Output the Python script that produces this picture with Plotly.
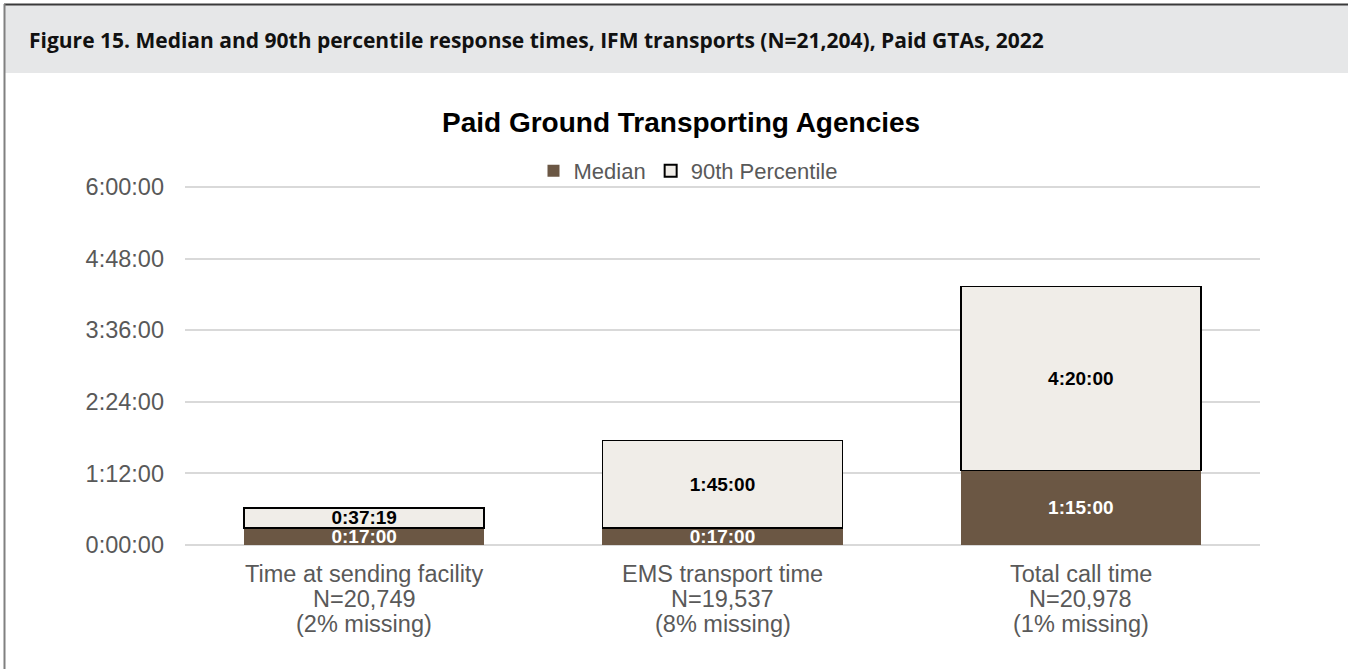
import plotly.graph_objects as go

# ---- data ----
categories = ["Time at sending facility", "EMS transport time", "Total call time"]
n_values = ["20,749", "19,537", "20,978"]
missing_pct = ["2%", "8%", "1%"]
median_sec = [17 * 60, 17 * 60, 75 * 60]                 # 0:17:00, 0:17:00, 1:15:00
p90_sec = [37 * 60 + 19, 105 * 60, 260 * 60]             # 0:37:19, 1:45:00, 4:20:00
tick_vals_sec = [0, 4320, 8640, 12960, 17280, 21600]
tick_labels = ["0:00:00", "1:12:00", "2:24:00", "3:36:00", "4:48:00", "6:00:00"]


def fmt(sec):
    h, r = divmod(int(sec), 3600)
    m, s = divmod(r, 60)
    return f"{h}:{m:02d}:{s:02d}"


extra_sec = [p - m for p, m in zip(p90_sec, median_sec)]

W, H = 1348, 669
L, R, T, B = 185, 1260, 177, 545  # plot area in pixels (extended a little above the 6:00:00 line)
TOP_GRID_PX = 187                  # pixel row of the 6:00:00 line
y_max = tick_vals_sec[-1] * (B - T) / (B - TOP_GRID_PX)


def xp(px):
    return (px - L) / (R - L)


def yp(py):
    return (B - py) / (B - T)


BROWN = "#6b5744"
LIGHT = "#f0ede8"
GRAY = "#595959"
SANS = "Liberation Sans, Arial"
bar_font = "Liberation Sans Narrow, Arial Narrow, Liberation Sans, Arial"

fig = go.Figure()
fig.add_trace(go.Bar(
    x=categories, y=median_sec, name="Median",
    marker=dict(color=BROWN, line=dict(color="#2b2218", width=0)),
    text=[fmt(v) for v in median_sec], textposition="inside", insidetextanchor="middle",
    textfont=dict(family=bar_font, size=19, color="white", weight="bold"),
    cliponaxis=True,
))
fig.add_trace(go.Bar(
    x=categories, y=extra_sec, name="90th Percentile",
    marker=dict(color=LIGHT, line=dict(color="black", width=1.6)),
    text=[fmt(v) for v in p90_sec], textposition="inside", insidetextanchor="middle",
    textfont=dict(family=bar_font, size=19, color="black", weight="bold"),
))

fig.update_layout(
    width=W, height=H,
    margin=dict(l=L, r=W - R, t=T, b=H - B, pad=0),
    paper_bgcolor="white", plot_bgcolor="white",
    barmode="stack", bargap=0.33,
    uniformtext=dict(minsize=19, mode="show"),
    showlegend=True,
    legend=dict(orientation="h", x=xp(688), xanchor="center", y=yp(171), yanchor="middle",
                font=dict(family=SANS, size=22, color=GRAY),
                itemsizing="constant", traceorder="normal", itemwidth=30,
                bgcolor="rgba(0,0,0,0)"),
    font=dict(family=SANS, color=GRAY),
    xaxis=dict(showgrid=False, showline=False, ticks="", showticklabels=False,
               zeroline=False),
    yaxis=dict(range=[0, y_max], tickvals=tick_vals_sec, ticktext=tick_labels,
               showgrid=True, gridcolor="#d9d9d9", gridwidth=1.5, zeroline=True,
               zerolinecolor="#d9d9d9", zerolinewidth=1.5, showline=False,
               tickfont=dict(family=SANS, size=23.5, color=GRAY), ticks="", ticklabelstandoff=20),
)

shapes = [
    # header band
    dict(type="rect", xref="paper", yref="paper", x0=xp(5), x1=xp(W + 5), y0=yp(73), y1=yp(5),
         fillcolor="#e6e7e8", line=dict(width=0), layer="below"),
    # top border
    dict(type="line", xref="paper", yref="paper", x0=xp(4), x1=xp(W + 5), y0=yp(4.5), y1=yp(4.5),
         line=dict(color="#3a3a3a", width=2)),
    # left border
    dict(type="line", xref="paper", yref="paper", x0=xp(4.5), x1=xp(4.5), y0=yp(4), y1=yp(H + 5),
         line=dict(color="#808080", width=2)),
]
fig.update_layout(shapes=shapes)

fig.add_annotation(
    text="Figure 15. Median and 90th percentile response times, IFM transports (N=21,204), Paid GTAs, 2022",
    xref="paper", yref="paper", x=xp(27), y=yp(40), xanchor="left", yanchor="middle",
    showarrow=False, font=dict(family="Open Sans, Liberation Sans", size=21, color="#111111", weight="bold"),
)
fig.add_annotation(
    text="Paid Ground Transporting Agencies",
    xref="paper", yref="paper", x=xp(681), y=yp(122), xanchor="center", yanchor="middle",
    showarrow=False, font=dict(family=SANS, size=28, color="black", weight="bold"),
)

# category labels (three lines each)
for cat, n, miss in zip(categories, n_values, missing_pct):
    for line, py in ((cat, 574), (f"N={n}", 599), (f"({miss} missing)", 624)):
        fig.add_annotation(
            text=line, xref="x", yref="paper", x=cat, y=yp(py),
            xanchor="center", yanchor="middle", showarrow=False,
            font=dict(family=SANS, size=23.5, color=GRAY),
        )

fig.write_html("out.html", config={"displayModeBar": False},
               post_script="document.body.style.margin='0';")
